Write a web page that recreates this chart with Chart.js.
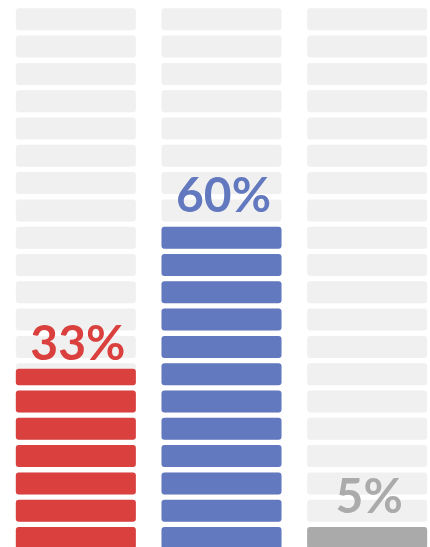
<!DOCTYPE html>
<html>
<head>
<meta charset="utf-8">
<script src="https://cdn.jsdelivr.net/npm/chart.js@4.4.1/dist/chart.umd.min.js"></script>
<style>
  html, body { margin: 0; padding: 0; background: #ffffff; overflow: hidden; width: 430px; height: 547px; }
  #wrap { position: absolute; left: 0; top: 0; width: 440px; height: 549px; }
</style>
</head>
<body>
<div id="wrap"><canvas id="c"></canvas></div>
<script>
// Data
const categories = ["A", "B", "C"];
const values = [33, 60, 5];
const valueLabels = ["33%", "60%", "5%"];
const barColors = ["#d9403e", "#6379bf", "#aaaaaa"];
const labelColors = ["#d9403e", "#6379bf", "#ababab"];

// Structure: 20 segments of 5% each
const SEGMENTS = 20;
const STEP = 100 / SEGMENTS;
const SEG_FILL = STEP * (22 / 27.3);

const datasets = [];
for (let k = 0; k < SEGMENTS; k++) {
  const lo = k * STEP, hi = lo + SEG_FILL;
  datasets.push({
    data: values.map(v => v > lo ? [lo, Math.min(hi, v)] : null),
    backgroundColor: barColors,
    order: 0
  });
}
for (let k = 0; k < SEGMENTS; k++) {
  const lo = k * STEP, hi = lo + SEG_FILL;
  datasets.push({
    data: categories.map(() => [lo, hi]),
    backgroundColor: "#f0f0f0",
    order: 1
  });
}

const labelPlugin = {
  id: "valueLabels",
  afterDatasetsDraw(chart) {
    const ctx = chart.ctx;
    const xs = chart.scales.x, ys = chart.scales.y;
    ctx.save();
    ctx.font = "bold 48px Lato, 'Open Sans', sans-serif";
    ctx.textAlign = "center";
    ctx.textBaseline = "alphabetic";
    values.forEach((v, i) => {
      ctx.fillStyle = labelColors[i];
      ctx.fillText(valueLabels[i], xs.getPixelForValue(i) + 2, ys.getPixelForValue(v) - 9);
    });
    ctx.restore();
  }
};

new Chart(document.getElementById("c"), {
  type: "bar",
  data: { labels: categories, datasets },
  options: {
    responsive: true,
    maintainAspectRatio: false,
    animation: false,
    layout: { padding: { left: 3, top: 3, right: 0, bottom: 0 } },
    datasets: {
      bar: {
        grouped: false,
        categoryPercentage: 1,
        barPercentage: 0.824,
        borderRadius: 3,
        borderSkipped: false,
        borderWidth: 0
      }
    },
    scales: {
      x: { display: false },
      y: { display: false, min: 0, max: 100 }
    },
    plugins: { legend: { display: false }, tooltip: { enabled: false } }
  },
  plugins: [labelPlugin]
});
</script>
</body>
</html>
